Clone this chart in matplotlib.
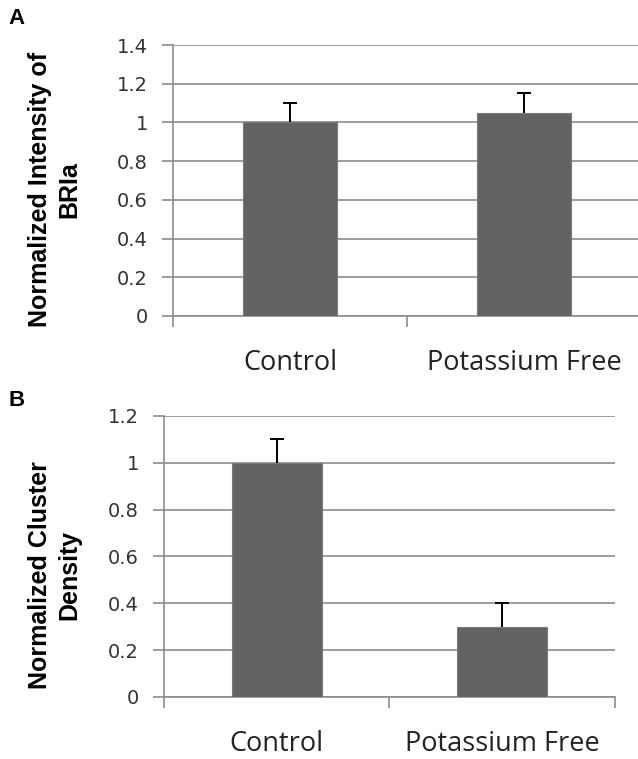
import numpy as np
from matplotlib import pyplot as plt

categories = ['Control', 'Potassium Free']

# Panel A: normalized intensity of BRIa
intensity = [1.0, 1.05]
intensity_err = [0.1, 0.1]

# Panel B: normalized cluster density
density = [1.0, 0.30]
density_err = [0.1, 0.1]

BAR_COLOR = '#636363'
GRID_COLOR = '#8c8c8c'
TICK_FONT = ['DejaVu Sans']
CAT_FONT = ['Open Sans', 'DejaVu Sans']
LABEL_FONT = ['Liberation Sans Narrow', 'Liberation Sans', 'DejaVu Sans']


def tick_text(v):
	if abs(v) < 1e-9:
		return '0'
	if abs(v - 1) < 1e-9:
		return '1'
	return f'{v:.1f}'


def draw_panel(ax, values, errs, ymax):
	x = np.arange(len(values)) + 0.5
	ax.bar(x, values, width=0.4, color=BAR_COLOR, edgecolor='#7a7a7a', linewidth=0.8, zorder=3)
	# only the upper half of the error bar is shown
	eb = ax.errorbar(x, values, yerr=[np.zeros(len(errs)), errs], fmt='none',
					 ecolor='black', elinewidth=1.4, capsize=5, capthick=1.4, zorder=4)
	eb[1][0].set_visible(False)

	ax.set_xlim(0, len(values))
	ax.set_ylim(0, ymax)
	yt = np.arange(0, ymax + 0.01, 0.2)
	ax.set_yticks(yt)
	ax.set_yticklabels([tick_text(v) for v in yt], fontfamily=TICK_FONT, fontsize=14, color='#333333')
	ax.yaxis.grid(True, color=GRID_COLOR, linewidth=1.2, zorder=0)
	ax.tick_params(axis='y', length=8, width=1.2, color=GRID_COLOR, pad=10)

	# category boundaries carry the ticks, names sit at the centres
	ax.set_xticks(np.arange(len(values) + 1))
	ax.set_xticklabels([])
	ax.tick_params(axis='x', length=8, width=1.2, color=GRID_COLOR)
	for xi, name in zip(x, categories):
		ax.annotate(name, xy=(xi, 0), xycoords=('data', 'axes fraction'),
					xytext=(0, -34), textcoords='offset points', ha='center', va='center',
					fontsize=19.5, fontfamily=CAT_FONT, color='#222222')

	for side in ['top', 'right']:
		ax.spines[side].set_visible(False)
	for side in ['left', 'bottom']:
		ax.spines[side].set_color(GRID_COLOR)
		ax.spines[side].set_linewidth(1.2)


fig = plt.figure(figsize=(6.38, 7.59), dpi=100)

ax_a = fig.add_axes([0.271, 0.5837, 0.734, 0.357])
draw_panel(ax_a, intensity, intensity_err, 1.4)

ax_b = fig.add_axes([0.257, 0.0817, 0.707, 0.3703])
draw_panel(ax_b, density, density_err, 1.2)

fig.text(0.086, 0.75, 'Normalized Intensity of\nBRIa', rotation=90, ha='center', va='center',
		 multialignment='center', fontsize=18, fontweight='bold', fontfamily=LABEL_FONT, linespacing=1.3)
fig.text(0.086, 0.2424, 'Normalized Cluster\nDensity', rotation=90, ha='center', va='center',
		 multialignment='center', fontsize=18, fontweight='bold', fontfamily=LABEL_FONT, linespacing=1.3)

fig.text(0.026, 0.975, 'A', fontsize=16, fontweight='bold', fontfamily=['Liberation Sans'], ha='center', va='center')
fig.text(0.026, 0.472, 'B', fontsize=16, fontweight='bold', fontfamily=['Liberation Sans'], ha='center', va='center')

fig.savefig('out.png', dpi=100)
